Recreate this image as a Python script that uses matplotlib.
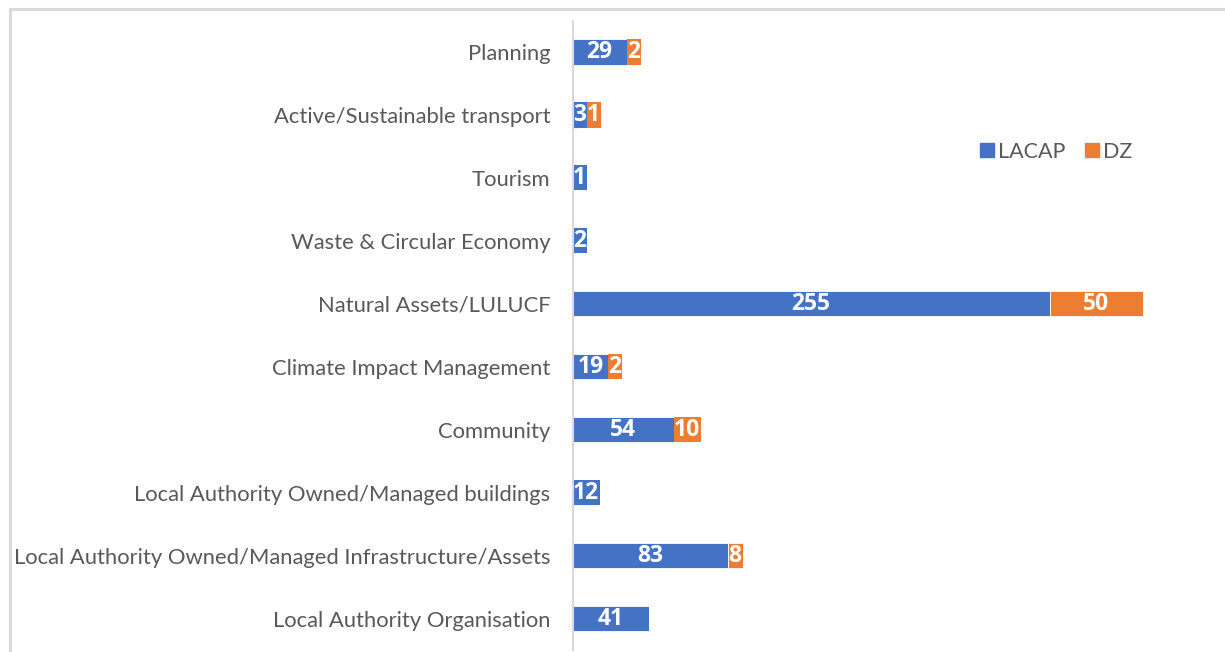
import matplotlib
matplotlib.use("Agg")
import matplotlib.pyplot as plt
from matplotlib.lines import Line2D

categories = [
    "Local Authority Organisation",
    "Local Authority Owned/Managed Infrastructure/Assets",
    "Local Authority Owned/Managed buildings",
    "Community",
    "Climate Impact Management",
    "Natural Assets/LULUCF",
    "Waste & Circular Economy",
    "Tourism",
    "Active/Sustainable transport",
    "Planning",
]
lacap = [41, 83, 12, 54, 19, 255, 2, 1, 3, 29]
dz = [0, 8, 0, 10, 2, 50, 0, 0, 1, 2]
series_names = ["LACAP", "DZ"]
colors = ["#4472C4", "#ED7D31"]

plt.rcParams['font.family'] = ['Lato', 'DejaVu Sans']

W, H = 1225, 652
fig = plt.figure(figsize=(W / 100, H / 100), dpi=100)

# outer frame of the (cropped) chart: left and top edges
fig.add_artist(Line2D([9.5 / W, 9.5 / W], [0, 1 - 8.5 / H], transform=fig.transFigure,
                      color="#D9D9D9", linewidth=2.2))
fig.add_artist(Line2D([9.5 / W, 1], [1 - 8.5 / H, 1 - 8.5 / H], transform=fig.transFigure,
                      color="#D9D9D9", linewidth=2.2))

ax_left = 572.5 / W
xmax = 350
ax_w = xmax * 1.8706 / W
ax = fig.add_axes([ax_left, (H - 650) / H, ax_w, (650 - 20.5) / H])

y = list(range(len(categories)))
h = 0.4
ax.barh(y, lacap, height=h, color=colors[0], edgecolor="white", linewidth=0.6, label=series_names[0])
ax.barh(y, dz, left=lacap, height=h, color=colors[1], edgecolor="white", linewidth=0.6, label=series_names[1])

ax.set_xlim(0, xmax)
ax.set_ylim(-0.5, len(categories) - 0.5)
ax.set_yticks(y)
ax.set_yticklabels(categories, fontsize=15.8, color="#595959")
ax.tick_params(axis="y", length=0, pad=16)
ax.set_xticks([])
for s in ["top", "right", "bottom"]:
    ax.spines[s].set_visible(False)
ax.spines["left"].set_color("#D9D9D9")
ax.spines["left"].set_linewidth(1.5)

# data labels with series-coloured background (Excel style), avoiding overlaps
fig.canvas.draw()
renderer = fig.canvas.get_renderer()
px_per_unit = ax.transData.transform((1, 0))[0] - ax.transData.transform((0, 0))[0]
for yi in y:
    prev_right = 0.0
    segs = [(0, lacap[yi], colors[0]), (lacap[yi], dz[yi], colors[1])]
    for start, v, c in segs:
        if v <= 0:
            continue
        t = ax.text(start + v / 2, yi, str(v), ha="center", va="center", color="white",
                    fontsize=16.5, fontweight="bold", family=["Open Sans", "DejaVu Sans"])
        tw = t.get_window_extent(renderer).width / px_per_unit + 1 / px_per_unit
        left = start + v / 2 - tw / 2
        left = max(left, start, prev_right)
        right = left + tw
        if right > start + v:
            ax.barh(yi, right - left, left=left, height=h, color=c, linewidth=0, zorder=2)
        t.set_x(left + tw / 2)
        t.set_zorder(3)
        prev_right = max(right, start + v)

handles = [Line2D([], [], marker="s", linestyle="none", markersize=9.5,
                  markerfacecolor=c, markeredgecolor=c) for c in colors]
fig.legend(handles, series_names, loc="center", bbox_to_anchor=(1055 / W, 1 - 152 / H),
           ncol=2, frameon=False, fontsize=15.5, labelcolor="#595959",
           handletextpad=0.05, columnspacing=0.8, handlelength=0.9)

fig.savefig("out.png", dpi=100)
